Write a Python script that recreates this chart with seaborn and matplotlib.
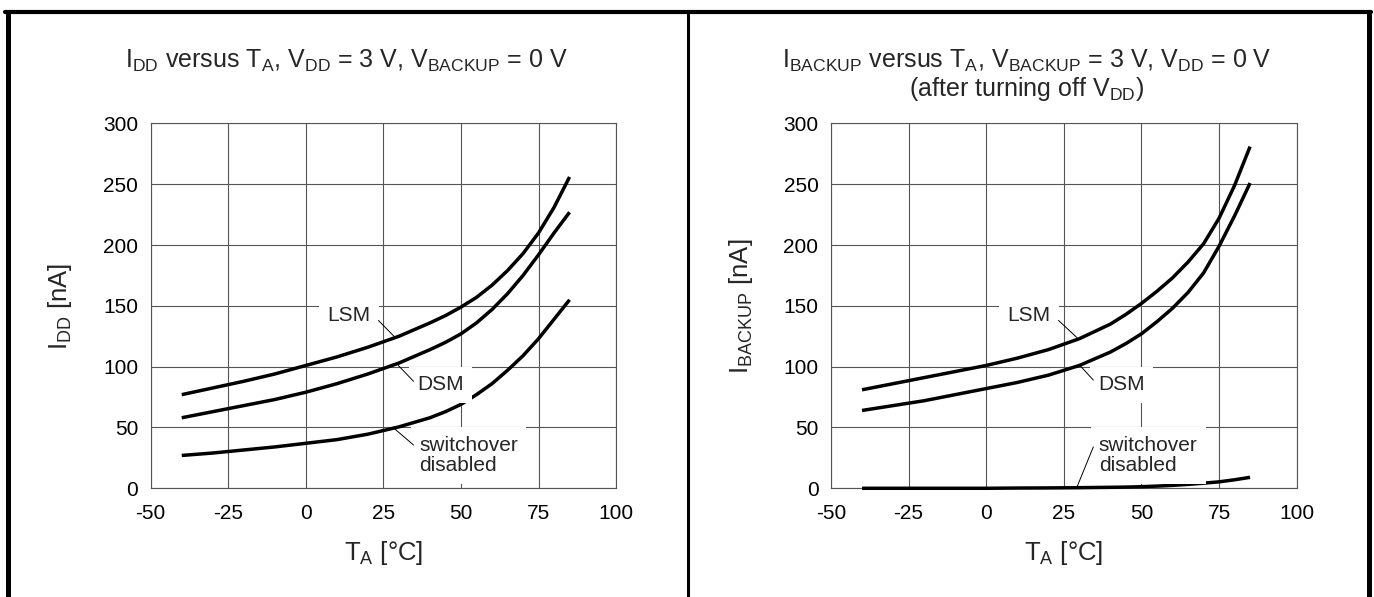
# import libraries
import pandas as pd
import matplotlib
matplotlib.use('Agg')
import matplotlib.pyplot as plt
import seaborn as sns
from matplotlib.lines import Line2D

# temperature points [°C]
temps = [-40, -30, -20, -10, 0, 10, 20, 30, 40, 45, 50, 55, 60, 65, 70, 75, 80, 85]

# left chart: I_DD [nA]
idd_lsm = [77, 82.5, 88, 94, 101, 108, 116, 125, 136, 142, 149, 157, 167, 179, 193, 210, 231, 256]
idd_dsm = [58, 63, 68, 73, 79, 86, 94, 103, 114, 120, 127, 136, 147, 160, 175, 192, 210, 227]
idd_off = [27, 29, 31.5, 34, 37, 40, 44.5, 50.5, 58, 63, 69, 77, 86, 97, 109, 123, 139, 155]

# right chart: I_BACKUP [nA]
ibk_lsm = [81, 86, 91, 96, 101, 107, 114, 123, 135, 143, 152, 162, 173, 186, 201, 222, 249, 281]
ibk_dsm = [64, 68, 72, 77, 82, 87, 93, 101, 112, 119, 127, 137, 148, 161, 177, 199, 224, 251]
ibk_off = [0, 0, 0, 0, 0, 0.2, 0.3, 0.5, 0.8, 1, 1.3, 1.8, 2.4, 3.2, 4.2, 5.3, 7, 9]

modes = ['LSM', 'DSM', 'switchover disabled']
x_ticks = [-50, -25, 0, 25, 50, 75, 100]
y_ticks = [0, 50, 100, 150, 200, 250, 300]


def make_df(lsm, dsm, off):
    frames = []
    for name, vals in zip(modes, [lsm, dsm, off]):
        frames.append(pd.DataFrame({'T': temps, 'I': vals, 'mode': name}))
    return pd.concat(frames, ignore_index=True)


df_left = make_df(idd_lsm, idd_dsm, idd_off)
df_right = make_df(ibk_lsm, ibk_dsm, ibk_off)

sns.set_theme(style='white')
plt.rcParams['font.family'] = ['Liberation Sans', 'DejaVu Sans']
plt.rcParams['mathtext.fontset'] = 'custom'
plt.rcParams['mathtext.rm'] = 'Liberation Sans'
plt.rcParams['mathtext.it'] = 'Liberation Sans'

fig = plt.figure(figsize=(13.74, 5.97), dpi=100)
ax1 = fig.add_axes([0.1097, 0.1821, 0.3387, 0.6111])
ax2 = fig.add_axes([0.6048, 0.1821, 0.3389, 0.6111])

grid_col = '#555555'


def style_axes(ax, df, ylabel):
    sns.lineplot(data=df, x='T', y='I', units='mode', estimator=None,
                 color='black', lw=2.5, solid_capstyle='butt', ax=ax,
                 zorder=3, clip_on=False)
    ax.set_xlim(-50, 100)
    ax.set_ylim(0, 300)
    ax.set_xticks(x_ticks)
    ax.set_yticks(y_ticks)
    ax.set_xticklabels([str(t) for t in x_ticks])
    ax.set_yticklabels([str(t) for t in y_ticks])
    ax.tick_params(length=0, labelsize=15, colors='black')
    ax.tick_params(axis='x', pad=11)
    ax.tick_params(axis='y', pad=9)
    ax.grid(True, color=grid_col, lw=0.8)
    for s in ax.spines.values():
        s.set_color(grid_col)
        s.set_linewidth(0.8)
    ax.set_xlabel(r'T$_\mathrm{A}$ [°C]', fontsize=18.5)
    ax.set_ylabel(ylabel, fontsize=18.5)
    ax.xaxis.set_label_coords(0.5, -0.14)
    ax.yaxis.set_label_coords(-0.164, 0.5)


style_axes(ax1, df_left, r'I$_\mathrm{DD}$ [nA]')
style_axes(ax2, df_right, r'I$_\mathrm{BACKUP}$ [nA]')

box = dict(boxstyle='square,pad=0.4', facecolor='white', edgecolor='none')
lead = dict(arrowstyle='-', lw=0.7, color='black', shrinkA=0, shrinkB=0)
fs_lab = 15

# curve labels, left chart
ax1.text(14, 142, 'LSM', fontsize=fs_lab, ha='center', va='center', bbox=box, zorder=4)
ax1.annotate('', xy=(28.8, 124), xytext=(23.4, 138), arrowprops=lead, zorder=4)
ax1.text(43.5, 85, 'DSM', fontsize=fs_lab, ha='center', va='center', bbox=box, zorder=4)
ax1.annotate('', xy=(29.8, 101), xytext=(34.7, 88), arrowprops=lead, zorder=4)
ax1.text(36.5, 27, 'switchover\ndisabled', fontsize=fs_lab, ha='left', va='center',
         linespacing=1.1, bbox=box, zorder=4)
ax1.annotate('', xy=(28.8, 48.5), xytext=(34.7, 35.6), arrowprops=lead, zorder=4)

# curve labels, right chart
ax2.text(13.8, 142, 'LSM', fontsize=fs_lab, ha='center', va='center', bbox=box, zorder=4)
ax2.annotate('', xy=(29.2, 124), xytext=(23.3, 138), arrowprops=lead, zorder=4)
ax2.text(43.6, 85, 'DSM', fontsize=fs_lab, ha='center', va='center', bbox=box, zorder=4)
ax2.annotate('', xy=(30.2, 101), xytext=(34.5, 89), arrowprops=lead, zorder=4)
ax2.text(36.3, 27, 'switchover\ndisabled', fontsize=fs_lab, ha='left', va='center',
         linespacing=1.1, bbox=box, zorder=4)
ax2.annotate('', xy=(29.2, 0.8), xytext=(34.5, 34), arrowprops=lead, zorder=4)

# titles
fs_title = 18
fig.text(0.2518, 0.8856,
         r'I$_\mathrm{DD}$ versus T$_\mathrm{A}$, V$_\mathrm{DD}$ = 3 V, V$_\mathrm{BACKUP}$ = 0 V',
         fontsize=fs_title, ha='center', va='baseline')
fig.text(0.7475, 0.8856,
         r'I$_\mathrm{BACKUP}$ versus T$_\mathrm{A}$, V$_\mathrm{BACKUP}$ = 3 V, V$_\mathrm{DD}$ = 0 V',
         fontsize=fs_title, ha='center', va='baseline')
fig.text(0.7475, 0.8392, r'(after turning off V$_\mathrm{DD}$)',
         fontsize=fs_title, ha='center', va='baseline')

# outer frame and divider
fig.add_artist(Line2D([0.0055, 0.0055], [0, 0.9799], transform=fig.transFigure, color='black', lw=3.6))
fig.add_artist(Line2D([0.0037, 0.9979], [0.9799, 0.9799], transform=fig.transFigure, color='black', lw=3))
fig.add_artist(Line2D([0.9961, 0.9961], [0, 0.9799], transform=fig.transFigure, color='black', lw=3.6))
fig.add_artist(Line2D([0.5004, 0.5004], [0, 0.9799], transform=fig.transFigure, color='black', lw=2.2))

plt.savefig('out.png', dpi=100)
